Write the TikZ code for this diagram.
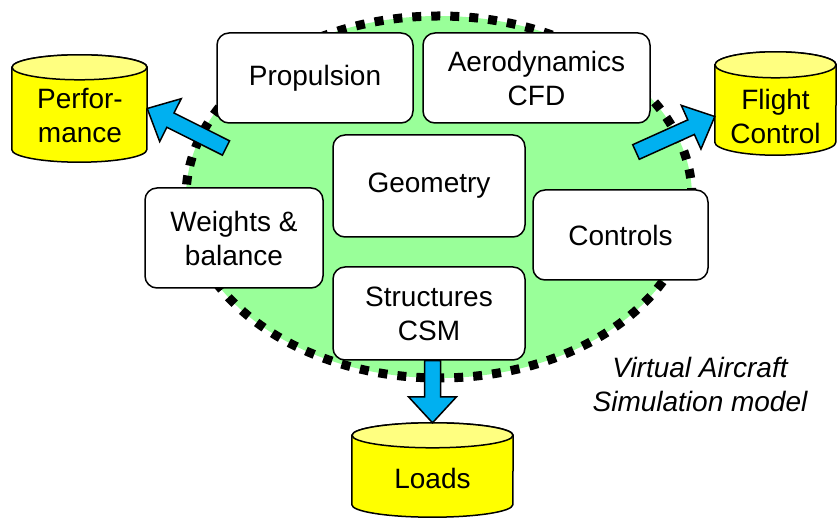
\documentclass[tikz,border=0pt]{standalone}
\usepackage{fontspec}
\setmainfont{Liberation Sans}
\usetikzlibrary{calc,shapes.geometric}
\definecolor{ovalgreen}{RGB}{153,255,153}
\definecolor{arrowblue}{RGB}{0,176,240}
\definecolor{cylyellow}{RGB}{255,255,0}
\definecolor{cyltopyellow}{RGB}{255,255,128}
\pgfdeclarelayer{bg}
\pgfsetlayers{bg,main}
\newcommand\drawblockarrow[3]{% name, tail, tip
  \coordinate (#1n) at ($(#3)!26pt!(#2)$);
  \draw[blkarrow] ($(#2)!8pt!90:(#3)$) -- ($(#1n)!8pt!-90:(#2)$) -- ($(#1n)!24pt!-90:(#2)$) -- (#3) -- ($(#1n)!24pt!90:(#2)$) -- ($(#1n)!8pt!90:(#2)$) -- ($(#2)!8pt!-90:(#3)$) -- cycle;}
\newcommand\drawcyl[3]{% node, x radius, y radius
  \begin{pgfonlayer}{bg}
  \draw[cylbody] ([yshift=-#3]#1.north west) -- ([yshift=#3]#1.south west) arc[start angle=180,end angle=360,x radius=#2,y radius=#3] -- ([yshift=-#3]#1.north east) arc[start angle=0,end angle=180,x radius=#2,y radius=#3] -- cycle;
  \draw[cyltop] ([yshift=-#3]#1.north) ellipse[x radius=#2,y radius=#3];
  \end{pgfonlayer}}
\tikzset{
  txt/.style={font=\fontsize{28}{34}\selectfont, align=center},
  module/.style={txt, draw=black, line width=1.5pt, fill=white, rounded corners=12pt, inner sep=0pt},
  oval/.style={ellipse, draw=black, fill=ovalgreen, line width=9pt, dash pattern=on 9pt off 10pt, inner sep=0pt},
  blkarrow/.style={draw=black, line width=1.5pt, fill=arrowblue, line join=miter},
  cylbox/.style={inner sep=0pt},
  cylbody/.style={draw=black, line width=1.5pt, fill=cylyellow},
  cyltop/.style={draw=black, line width=1.5pt, fill=cyltopyellow},
}
\begin{document}
\begin{tikzpicture}[x=1pt,y=1pt]
\useasboundingbox (0,0) rectangle (838,519);
% green oval
\node[oval, minimum width=506pt, minimum height=362pt] (sim) at (439,322) {};
% cylinders
\node[cylbox, minimum width=135pt, minimum height=107pt] (perf) at (79.5,410.5) {};
\drawcyl{perf}{67.5pt}{12.5pt}
\node[txt] (perfT) at (80,403) {Perfor-\\mance};
\node[cylbox, minimum width=121pt, minimum height=103pt] (fc) at (775.5,415.5) {};
\drawcyl{fc}{60.5pt}{13pt}
\node[txt] (fcT) at (775.5,403) {Flight\\Control};
\node[cylbox, minimum width=161pt, minimum height=94pt] (loads) at (432.5,49) {};
\drawcyl{loads}{80.5pt}{12.5pt}
\node[txt] (loadsT) at (432.5,41) {Loads};
% modules
\node[module, minimum width=196pt, minimum height=90pt] (prop) at (315,441) {Propulsion};
\node[module, minimum width=227pt, minimum height=90pt] (aero) at (536.5,441) {Aerodynamics\\CFD};
\node[module, minimum width=192pt, minimum height=102pt] (geom) at (429,333) {Geometry};
\node[module, minimum width=178pt, minimum height=100pt] (wb) at (234,281) {Weights \&\\balance};
\node[module, minimum width=175pt, minimum height=90pt] (ctrl) at (620.5,284) {Controls};
\node[module, minimum width=192pt, minimum height=93pt] (str) at (429,205.5) {Structures\\CSM};
% arrows
\coordinate (ptail) at (226,371);
\drawblockarrow{pa}{ptail}{perf.east}
\coordinate (ftail) at (636,367);
\coordinate (ftip) at ([yshift=-13pt]fc.west);
\drawblockarrow{fa}{ftail}{ftip}
\coordinate (ltail) at (loads.north |- str.south);
\drawblockarrow{la}{ltail}{loads.north}
% caption
\node[txt, font=\fontsize{28}{34}\selectfont\itshape] (vas) at (700,134) {Virtual Aircraft\\Simulation model};
\end{tikzpicture}
\end{document}
